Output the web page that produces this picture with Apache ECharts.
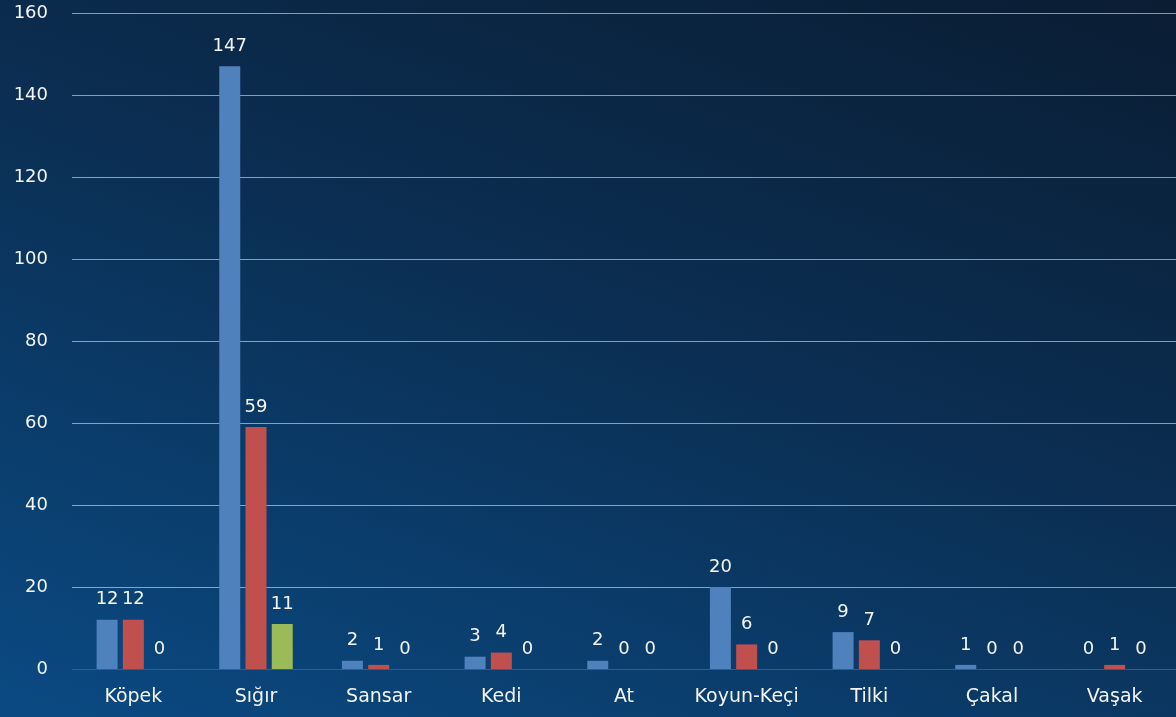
<!DOCTYPE html>
<html>
<head>
<meta charset="utf-8">
<script src="https://cdn.jsdelivr.net/npm/echarts@6/dist/echarts.min.js"></script>
<style>
  html, body { margin: 0; padding: 0; }
  #chart {
    width: 1176px; height: 717px;
    background: linear-gradient(200deg, #0a1d33 0%, #0b2e52 45%, #0a4a83 100%);
  }
</style>
</head>
<body>
<div id="chart"></div>
<script>
const categories = ['Köpek', 'Sığır', 'Sansar', 'Kedi', 'At', 'Koyun-Keçi', 'Tilki', 'Çakal', 'Vaşak'];
const seriesBlue = [12, 147, 2, 3, 2, 20, 9, 1, 0];
const seriesRed = [12, 59, 1, 4, 0, 6, 7, 0, 1];
const seriesGreen = [0, 11, 0, 0, 0, 0, 0, 0, 0];
const yTicks = [0, 20, 40, 60, 80, 100, 120, 140, 160];

const colors = ['#4f81bd', '#c0504d', '#9bbb59'];
const labelFont = 'DejaVu Sans, sans-serif';

function makeSeries(data, color) {
  return {
    type: 'bar',
    data: data,
    barWidth: 21,
    barGap: '25%',
    itemStyle: { color: color },
    label: {
      show: true,
      position: 'top',
      distance: 11,
      color: '#f2f4f7',
      fontFamily: labelFont,
      fontSize: 18
    }
  };
}

const chart = echarts.init(document.getElementById('chart'));
chart.setOption({
  backgroundColor: 'transparent',
  animation: false,
  grid: { left: 72, right: 0, top: 13, bottom: 48, containLabel: false },
  xAxis: {
    type: 'category',
    data: categories,
    axisTick: { show: false },
    axisLine: { lineStyle: { color: '#3d5c7c', width: 1 } },
    axisLabel: {
      color: '#f2f4f7',
      fontFamily: labelFont,
      fontSize: 19,
      margin: 19,
      interval: 0
    }
  },
  yAxis: {
    type: 'value',
    min: yTicks[0],
    max: yTicks[yTicks.length - 1],
    interval: 20,
    axisLine: { show: false },
    axisTick: { show: false },
    splitLine: { lineStyle: { color: 'rgba(225,232,240,0.6)', width: 1 } },
    axisLabel: {
      color: '#f2f4f7',
      fontFamily: labelFont,
      fontSize: 18,
      margin: 24
    }
  },
  series: [
    makeSeries(seriesBlue, colors[0]),
    makeSeries(seriesRed, colors[1]),
    makeSeries(seriesGreen, colors[2])
  ]
});
</script>
</body>
</html>
